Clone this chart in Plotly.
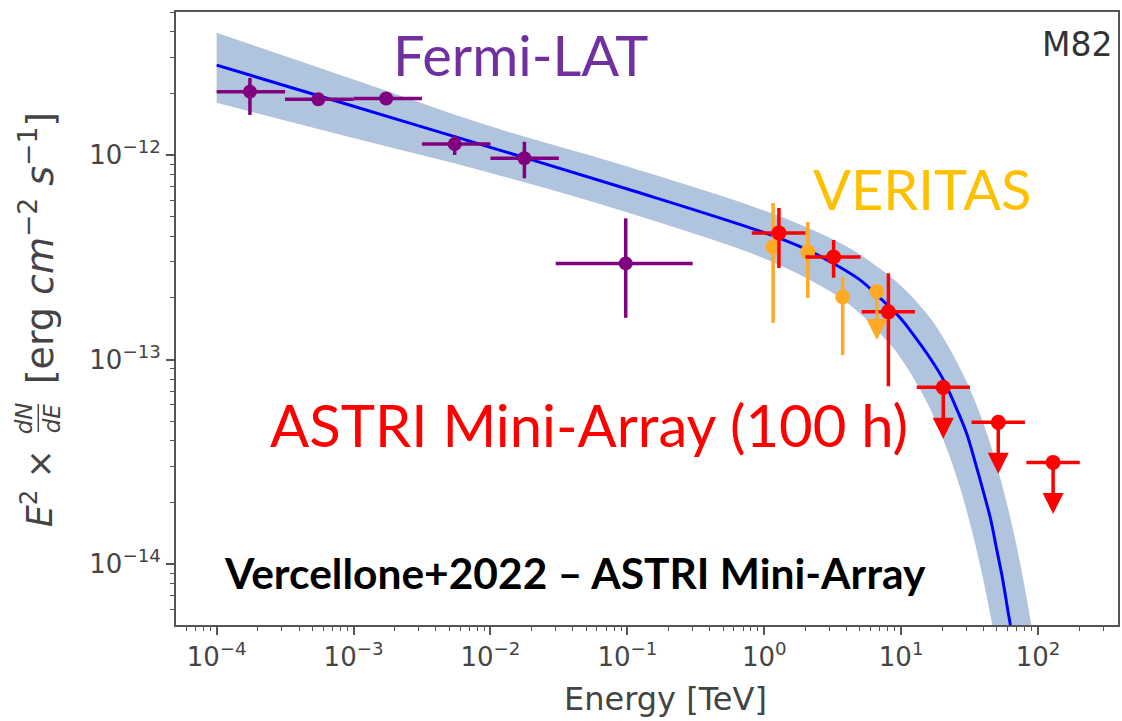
import numpy as np
import plotly.graph_objects as go

# ---------------- data ----------------
# Fermi-LAT (purple)
fermi_E = [1.75e-4, 5.53e-4, 1.73e-3, 5.48e-3, 1.77e-2, 0.0973]
fermi_Elo = [1.0e-4, 3.16e-4, 1.0e-3, 3.16e-3, 1.0e-2, 0.030]
fermi_Ehi = [3.16e-4, 1.0e-3, 3.16e-3, 1.0e-2, 3.16e-2, 0.30]
fermi_F = [2.04e-12, 1.87e-12, 1.89e-12, 1.13e-12, 9.63e-13, 2.95e-13]
fermi_Flo = [1.57e-12, 1.79e-12, 1.81e-12, 1.00e-12, 7.69e-13, 1.60e-13]
fermi_Fhi = [2.38e-12, 1.96e-12, 1.98e-12, 1.25e-12, 1.16e-12, 4.90e-13]

# VERITAS (orange)
ver_E = [1.16, 2.08, 3.74]
ver_F = [3.55e-13, 3.36e-13, 2.02e-13]
ver_Flo = [1.51e-13, 2.00e-13, 1.05e-13]
ver_Fhi = [5.82e-13, 4.70e-13, 2.53e-13]
ver_ul_E = [6.64]
ver_ul_F = [2.15e-13]

# ASTRI Mini-Array (red)
astri_E = [1.28, 3.21, 8.07]
astri_Elo = [0.81, 2.0, 5.16]
astri_Ehi = [2.0, 5.05, 12.6]
astri_F = [4.16e-13, 3.17e-13, 1.71e-13]
astri_Flo = [2.80e-13, 2.51e-13, 7.4e-14]
astri_Fhi = [5.51e-13, 3.84e-13, 2.64e-13]
astri_ul_E = [20.3, 51.2, 128.8]
astri_ul_Elo = [13.0, 32.7, 82.2]
astri_ul_Ehi = [31.8, 80.2, 201.8]
astri_ul_F = [7.31e-14, 4.93e-14, 3.14e-14]

# model curve (blue line) and its uncertainty band
model_E = [1e-4, 1e-3, 1e-2, 0.1, 1, 2, 3, 5, 7, 10, 12, 15, 20, 25, 30, 35, 40,
           45, 50, 55, 60, 65]
model_F = [2.75e-12, 1.73e-12, 1.09e-12, 6.82e-13, 4.17e-13, 3.47e-13, 3.02e-13,
           2.45e-13, 2.00e-13, 1.58e-13, 1.35e-13, 1.10e-13, 8.13e-14, 5.89e-14,
           4.37e-14, 3.09e-14, 2.24e-14, 1.66e-14, 1.17e-14, 8.5e-15, 6.0e-15, 4.4e-15]
band_up_E = [1e-4, 1e-3, 1e-2, 0.1, 1, 3, 5, 10, 15, 20, 30, 40, 50, 60, 70, 80, 90, 95]
band_up_F = [3.96e-12, 2.34e-12, 1.38e-12, 8.79e-13, 5.35e-13, 3.94e-13, 3.26e-13,
             2.29e-13, 1.71e-13, 1.30e-13, 7.83e-14, 4.84e-14, 3.02e-14, 1.90e-14,
             1.21e-14, 7.66e-15, 4.90e-15, 3.92e-15]
band_lo_E = [1e-4, 1e-3, 1e-2, 0.1, 1, 3, 5, 8, 10, 15, 20, 25, 30, 35, 40, 45, 50]
band_lo_F = [1.80e-12, 1.21e-12, 8.17e-13, 5.24e-13, 3.12e-13, 2.16e-13, 1.68e-13,
             1.22e-13, 1.01e-13, 6.41e-14, 4.17e-14, 2.76e-14, 1.84e-14, 1.23e-14,
             8.26e-15, 5.57e-15, 3.76e-15]

# tick labels
x_tick_vals = [1e-4, 1e-3, 1e-2, 1e-1, 1e0, 1e1, 1e2]
x_tick_text = ["10<sup>−4</sup>", "10<sup>−3</sup>", "10<sup>−2</sup>", "10<sup>−1</sup>",
               "10<sup>0</sup>", "10<sup>1</sup>", "10<sup>2</sup>"]
y_tick_vals = [1e-14, 1e-13, 1e-12]
y_tick_text = ["10<sup>−14</sup>", "10<sup>−13</sup>", "10<sup>−12</sup>"]

# ---------------- styling ----------------
W, H = 1122, 721
L, R, T, B = 176, 1120, 12, 625
PURPLE = "#800080"
ORANGE = "#FFAA25"
RED = "#FF0000"
AXC = "#555555"
TXC = "#444444"


def err(v, lo, hi):
    return dict(type="data", symmetric=False,
                array=[h - x for x, h in zip(v, hi)],
                arrayminus=[x - l for x, l in zip(v, lo)])


def px(xp):
    return (xp - L) / (R - L)


def py(yp):
    return (B - yp) / (B - T)


fig = go.Figure()

# band (lower edge, then upper edge filled to it)
fig.add_trace(go.Scatter(
    x=band_lo_E, y=band_lo_F, mode="lines",
    line=dict(width=0, color="#B0C4DE", shape="spline", smoothing=1.0),
    hoverinfo="skip", showlegend=False))
fig.add_trace(go.Scatter(
    x=band_up_E, y=band_up_F, mode="lines", fill="tonexty", fillcolor="#B0C4DE",
    line=dict(width=0, color="#B0C4DE", shape="spline", smoothing=1.0),
    hoverinfo="skip", showlegend=False))
# model line
fig.add_trace(go.Scatter(
    x=model_E, y=model_F, mode="lines",
    line=dict(color="#0000FF", width=3, shape="spline", smoothing=1.0),
    showlegend=False))

# Fermi
ex = err(fermi_E, fermi_Elo, fermi_Ehi)
ey = err(fermi_F, fermi_Flo, fermi_Fhi)
fig.add_trace(go.Scatter(
    x=fermi_E, y=fermi_F, mode="markers",
    marker=dict(color=PURPLE, size=14),
    error_x=dict(**ex, color=PURPLE, thickness=3.5, width=0),
    error_y=dict(**ey, color=PURPLE, thickness=3.5, width=0),
    showlegend=False))

# VERITAS
ey = err(ver_F, ver_Flo, ver_Fhi)
fig.add_trace(go.Scatter(
    x=ver_E, y=ver_F, mode="markers",
    marker=dict(color=ORANGE, size=15),
    error_y=dict(**ey, color=ORANGE, thickness=3.5, width=0),
    showlegend=False))
fig.add_trace(go.Scatter(
    x=ver_ul_E, y=ver_ul_F, mode="markers",
    marker=dict(color=ORANGE, size=15), showlegend=False))

# ASTRI
ex = err(astri_E, astri_Elo, astri_Ehi)
ey = err(astri_F, astri_Flo, astri_Fhi)
fig.add_trace(go.Scatter(
    x=astri_E, y=astri_F, mode="markers",
    marker=dict(color=RED, size=15),
    error_x=dict(**ex, color=RED, thickness=3.5, width=0),
    error_y=dict(**ey, color=RED, thickness=3.5, width=0),
    showlegend=False))
ex = err(astri_ul_E, astri_ul_Elo, astri_ul_Ehi)
fig.add_trace(go.Scatter(
    x=astri_ul_E, y=astri_ul_F, mode="markers",
    marker=dict(color=RED, size=15),
    error_x=dict(**ex, color=RED, thickness=3.5, width=0),
    showlegend=False))

annotations = []
# upper-limit arrows (pointing down)
for e, f, c, ln in ([(e, f, ORANGE, 50) for e, f in zip(ver_ul_E, ver_ul_F)] +
                    [(e, f, RED, 53) for e, f in zip(astri_ul_E, astri_ul_F)]):
    annotations.append(dict(
        x=np.log10(e), y=np.log10(f), xref="x", yref="y", text="",
        showarrow=True, ax=0, ay=ln, axref="pixel", ayref="pixel",
        arrowside="start", arrowcolor=c, arrowwidth=3.5,
        startarrowhead=2, startarrowsize=1.2, arrowhead=2, arrowsize=1.2,
        standoff=0, startstandoff=0))

texts = [
    ("Fermi-LAT", 521, 55, "Lato", 56, "#7030A0", False),
    ("VERITAS", 924, 188, "Lato", 56, "#FFC000", False),
    ("ASTRI Mini-Array (100 h)", 590, 424, "Lato", 58, RED, False),
    ("Vercellone+2022 – ASTRI Mini-Array", 576, 572, "Lato", 42.5, "#000000", True),
    ("M82", 1079, 44, "DejaVu Sans", 33, "#333333", False),
    ("Energy [TeV]", 667, 699, "DejaVu Sans", 32, TXC, False),
]
for t, xx, yy, fam, sz, col, bold in texts:
    annotations.append(dict(
        x=px(xx), y=py(yy), xref="paper", yref="paper",
        text=f"<b>{t}</b>" if bold else t, showarrow=False,
        xanchor="center", yanchor="middle",
        font=dict(family=fam, size=sz, color=col)))

# y-axis title, built from parts (rotated), with a stacked fraction dN/dE
ylab_parts = [
    ("<i>E</i><sup>2</sup> ×", 37, 488, 35),
    ("<i>dN</i>", 24, 418, 23),
    ("<i>dE</i>", 52, 418, 23),
    ("[erg <i>cm</i><sup>−2</sup> <i>s</i><sup>−1</sup>]", 37, 248, 38),
]
for t, xx, yy, sz in ylab_parts:
    annotations.append(dict(
        x=px(xx), y=py(yy), xref="paper", yref="paper",
        xanchor="center", yanchor="middle", textangle=-90, showarrow=False,
        text=t, font=dict(family="DejaVu Sans", size=sz, color=TXC)))

shapes = [dict(type="line", xref="paper", yref="paper",
               x0=px(38), x1=px(38), y0=py(404), y1=py(432),
               line=dict(color=TXC, width=1.5))]

x_minor = [m * 10.0 ** d for d in range(-5, 3) for m in range(2, 10)]
y_minor = [m * 10.0 ** d for d in range(-15, -11) for m in range(2, 10)]

fig.update_layout(
    width=W, height=H, autosize=False,
    margin=dict(l=L, r=W - R, t=T, b=H - B, pad=0),
    paper_bgcolor="white", plot_bgcolor="white",
    showlegend=False,
    annotations=annotations, shapes=shapes,
    xaxis=dict(
        type="log", range=[-4.297, 2.584],
        tickmode="array", tickvals=x_tick_vals, ticktext=x_tick_text,
        ticks="outside", ticklen=8, tickwidth=1.5, tickcolor=AXC,
        minor=dict(tickmode="array", tickvals=x_minor, ticks="outside",
                   ticklen=4, tickwidth=1.2, tickcolor=AXC, showgrid=False),
        showgrid=False, zeroline=False,
        showline=True, linecolor=AXC, linewidth=2, mirror=True,
        tickfont=dict(family="DejaVu Sans", size=26, color=TXC),
    ),
    yaxis=dict(
        type="log", range=[-14.298, -11.301],
        tickmode="array", tickvals=y_tick_vals, ticktext=y_tick_text,
        ticks="outside", ticklen=8, tickwidth=1.5, tickcolor=AXC,
        minor=dict(tickmode="array", tickvals=y_minor, ticks="outside",
                   ticklen=4, tickwidth=1.2, tickcolor=AXC, showgrid=False),
        showgrid=False, zeroline=False,
        showline=True, linecolor=AXC, linewidth=2, mirror=True,
        tickfont=dict(family="DejaVu Sans", size=26, color=TXC),
    ),
)

fig.write_html("out.html")
